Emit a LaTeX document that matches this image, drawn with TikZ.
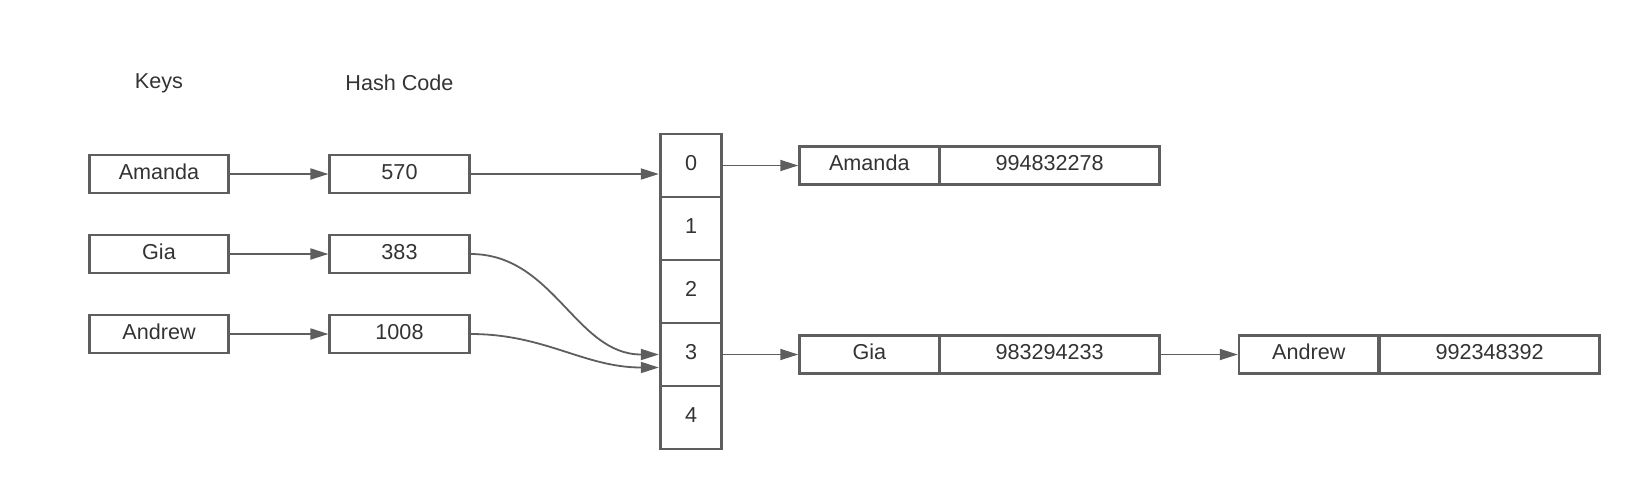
\documentclass[tikz,border=0pt]{standalone}
\usepackage{fontspec}
\setmainfont{Liberation Sans}
\usetikzlibrary{arrows.meta}
\definecolor{edgegray}{HTML}{5E5E5E}
\definecolor{textgray}{HTML}{333333}
\begin{document}
\begin{tikzpicture}[x=0.5pt,y=-0.5pt]
\tikzstyle{every node}+=[inner sep=0pt,text=textgray,font=\fontsize{10.8}{13}\selectfont]
\tikzstyle{box}=[draw=edgegray,line width=1.35pt,minimum height=19pt,text height=7.7pt,text depth=2.5pt]
\tikzstyle{keybox}=[box,minimum width=69.7pt]
\tikzstyle{valbox}=[box,minimum width=109.7pt]
\tikzstyle{cell}=[box,minimum width=30.8pt,minimum height=31.5pt]
\tikzstyle{link}=[draw=edgegray,line width=0.9pt,-{Triangle[length=9pt,width=5.5pt]}]
\useasboundingbox (0,0) rectangle (1640,489);
% column titles
\node (keys) at (159,83) {Keys};
\node (hash) at (399.5,83) {Hash Code};
% keys and their hash codes
\node[keybox] (k0) at (159,174) {Amanda};
\node[keybox] (k1) at (159,254) {Gia};
\node[keybox] (k2) at (159,334) {Andrew};
\node[keybox] (h0) at (399.5,174) {570};
\node[keybox] (h1) at (399.5,254) {383};
\node[keybox] (h2) at (399.5,334) {1008};
% the table
\foreach \i in {0,...,4}
  \node[cell] (c\i) at (691,{165.5+63*\i}) {\i};
% entries
\node[keybox] (r0k) at (869.3,165.5) {Amanda};
\node[valbox] (r0v) at (1049.6,165.5) {994832278};
\node[keybox] (r1k) at (869.3,354.5) {Gia};
\node[valbox] (r1v) at (1049.6,354.5) {983294233};
\node[keybox] (r2k) at (1308.8,354.5) {Andrew};
\node[valbox] (r2v) at (1489.6,354.5) {992348392};
% arrows
\draw[link] (k0) -- (h0);
\draw[link] (k1) -- (h1);
\draw[link] (k2) -- (h2);
\draw[link] (h0) -- (h0 -| c0.west);
\draw[link] (h1.east) to[out=0,in=180] (c3.west);
\draw[link] (h2.east) to[out=0,in=180] ([yshift=-6.5pt]c3.west);
\draw[link] (c0) -- (r0k);
\draw[link] (c3) -- (r1k);
\draw[link] (r1v) -- (r2k);
\end{tikzpicture}
\end{document}
